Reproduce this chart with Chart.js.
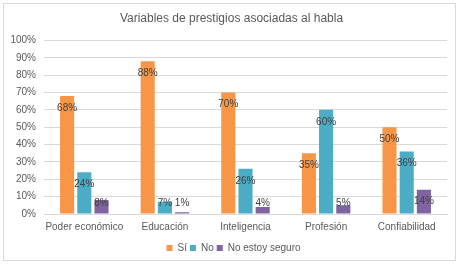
<!DOCTYPE html>
<html><head><meta charset="utf-8">
<script src="https://cdn.jsdelivr.net/npm/chart.js@4/dist/chart.umd.min.js"></script>
<style>
html,body{margin:0;padding:0;background:#fff;}
#wrap{position:absolute;left:3px;top:3px;width:453px;height:258px;border:1px solid #d9d9d9;box-sizing:border-box;}
canvas{position:absolute;left:0;top:0;}
</style></head>
<body>
<div id="wrap"></div>
<canvas id="c" width="460" height="264"></canvas>
<script>
const categories = ["Poder económico", "Educación", "Inteligencia", "Profesión", "Confiabilidad"];
const seriesNames = ["Sí", "No", "No estoy seguro"];
const si = [68, 88, 70, 35, 50];
const no = [24, 7, 26, 60, 36];
const noSeguro = [8, 1, 4, 5, 14];
const yTicks = [0, 10, 20, 30, 40, 50, 60, 70, 80, 90, 100];
const colors = ["#F79646", "#4BACC6", "#8064A2"];
const FONT = '"Liberation Sans", Arial, sans-serif';

const labelPlugin = {
  id: 'barLabels',
  afterLayout(chart) {
    if (chart.legend) { chart.legend.left += 7; chart.legend.right += 7; }
    if (chart.titleBlock) { chart.titleBlock.left += 5; chart.titleBlock.right += 5; }
  },
  afterDatasetsDraw(chart) {
    const ctx = chart.ctx;
    ctx.save();
    ctx.font = '10px ' + FONT;
    ctx.fillStyle = '#404040';
    ctx.textAlign = 'center';
    ctx.textBaseline = 'middle';
    const base = chart.scales.y.getPixelForValue(0);
    chart.data.datasets.forEach((ds, i) => {
      chart.getDatasetMeta(i).data.forEach((bar, j) => {
        const y = Math.min(bar.y + 12, base - 11);
        ctx.fillText(ds.data[j] + '%', bar.x, y);
      });
    });
    ctx.restore();
  }
};

new Chart(document.getElementById('c'), {
  type: 'bar',
  data: {
    labels: categories,
    datasets: [
      { label: seriesNames[0], data: si, backgroundColor: colors[0] },
      { label: seriesNames[1], data: no, backgroundColor: colors[1] },
      { label: seriesNames[2], data: noSeguro, backgroundColor: colors[2] }
    ]
  },
  options: {
    responsive: false,
    animation: false,
    devicePixelRatio: 1,
    layout: { padding: { left: 6, right: 13, top: 2, bottom: 1 } },
    datasets: { bar: { categoryPercentage: 0.64, barPercentage: 0.82 } },
    plugins: {
      title: {
        display: true,
        text: 'Variables de prestigios asociadas al habla',
        color: '#595959',
        font: { family: FONT, size: 12, weight: 'normal' },
        padding: { top: 9, bottom: 15 }
      },
      legend: {
        position: 'bottom',
        labels: {
          boxWidth: 6, boxHeight: 6, padding: 3,
          color: '#595959',
          font: { family: FONT, size: 10 }
        }
      },
      tooltip: { enabled: false }
    },
    scales: {
      x: {
        grid: { display: false, drawTicks: false },
        border: { color: '#d9d9d9' },
        afterFit(scale) { scale.height = 26; },
        ticks: { color: '#595959', autoSkip: false, font: { family: FONT, size: 10 }, maxRotation: 0, padding: 7 }
      },
      y: {
        min: 0, max: 100,
        afterBuildTicks(scale) { scale.ticks = yTicks.map(v => ({ value: v })); },
        afterFit(scale) { scale.width = 38; },
        grid: { color: '#d9d9d9', drawTicks: false },
        border: { display: false },
        ticks: { color: '#595959', padding: 8, font: { family: FONT, size: 10 }, callback: v => v + '%' }
      }
    }
  },
  plugins: [labelPlugin]
});
</script>
</body></html>
